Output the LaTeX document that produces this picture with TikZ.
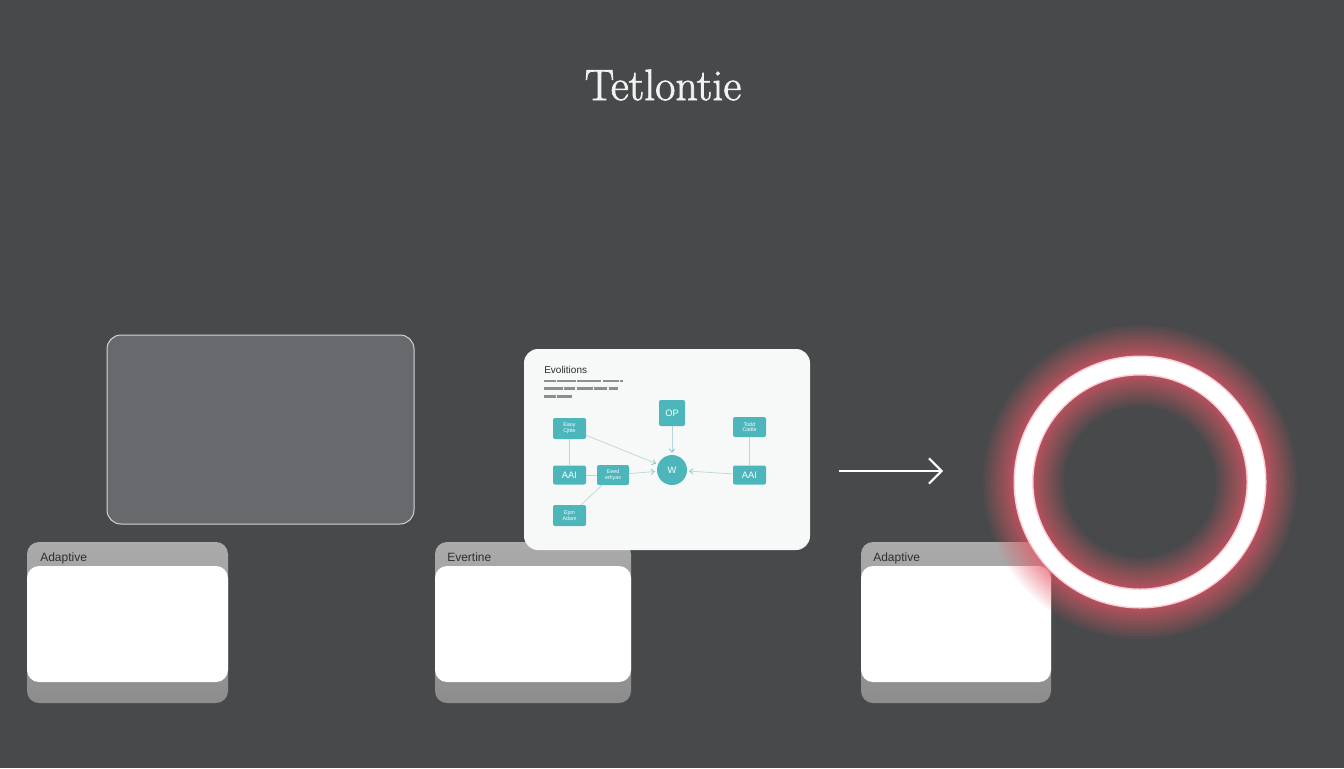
\documentclass[tikz,border=0pt]{standalone}
\usepackage{fontspec}
\newfontfamily\labelfont{Liberation Sans}
\newfontfamily\titlefont[FakeBold=1.6]{Latin Modern Roman}
\usetikzlibrary{arrows.meta}
\definecolor{bg}{HTML}{48494B}
\definecolor{titlecol}{HTML}{F2F2F2}
\definecolor{panelgray}{HTML}{67696C}
\definecolor{panelline}{HTML}{D4D5D6}
\definecolor{cardwhite}{HTML}{F7F8F8}
\definecolor{backgray}{HTML}{9C9C9C}
\definecolor{labelcol}{HTML}{2E2E2E}
\definecolor{teal}{HTML}{4DB6BB}
\definecolor{conncol}{HTML}{B7D6D8}
\definecolor{tipcol}{HTML}{6FC2C6}
\definecolor{glowred}{HTML}{EA5E6C}
\definecolor{ringpink}{HTML}{FBD0D4}
\definecolor{textline}{HTML}{8A8F92}
\tikzset{
  pxsize/.style 2 args={minimum width=#1*0.75pt, minimum height=#2*0.75pt, inner sep=0pt},
  backcard/.style={rounded corners=9pt},
  frontcard/.style={fill=white, rounded corners=9pt},
  cardlabel/.style={anchor=west, text=labelcol, font=\labelfont\fontsize{9}{10}\selectfont, inner sep=0pt},
  tealbox/.style={fill=teal, rounded corners=1.5pt, text=white, align=center, font=\labelfont\fontsize{7}{7}\selectfont},
  tinytxt/.style={font=\labelfont\fontsize{4}{4.2}\selectfont},
  conn/.style={draw=conncol, line width=0.5pt},
  connarrow/.style={conn, -{Straight Barb[length=2.5pt,width=4pt,color=tipcol]}, shorten >=1.5pt},
}
\begin{document}
\begin{tikzpicture}[x=0.75pt,y=-0.75pt]
\fill[bg] (0,0) rectangle (1344,768);
\useasboundingbox (0,0) rectangle (1344,768);

% title
\node[text=titlecol, font=\titlefont\fontsize{33}{36}\selectfont] (title) at (663,85) {Tetlontie};

% translucent gray panel
\node[pxsize={307}{189}, fill=panelgray, draw=panelline, line width=0.75pt, rounded corners=10.5pt] (panel) at (260.5,429.5) {};

% bottom card backs
\node[backcard, pxsize={201}{161}, top color=backgray!85!white, bottom color=backgray!90!black] (back1) at (127.5,622.5) {};
\node[backcard, pxsize={196}{161}, top color=backgray!85!white, bottom color=backgray!90!black] (back2) at (533,622.5) {};
\node[backcard, pxsize={190}{161}, top color=backgray!85!white, bottom color=backgray!90!black] (back3) at (956,622.5) {};
\node[frontcard, pxsize={201}{116}] (front1) at (127.5,624) {};
\node[frontcard, pxsize={196}{116}] (front2) at (533,624) {};
\node[frontcard, pxsize={190}{116}] (front3) at (956,624) {};
\node[cardlabel] (lab1) at (40,558) {Adaptive};
\node[cardlabel] (lab2) at (447,557) {Evertine};
\node[cardlabel] (lab3) at (873,558) {Adaptive};

% diagram card
\node[pxsize={286}{201}, fill=cardwhite, rounded corners=10.5pt] (card) at (667,449.5) {};
\node[anchor=west, inner sep=0pt, text=labelcol, font=\labelfont\fontsize{7.5}{8}\selectfont] (evo) at (544,370) {Evolitions};
\draw[textline, line width=2.2pt, dash pattern=on 9pt off 1pt on 14pt off 1pt on 18pt off 1pt on 12pt off 1pt] (544,381) -- (623,381);
\draw[textline, line width=2.2pt, dash pattern=on 14pt off 1pt on 8pt off 1.5pt on 12pt off 1pt on 10pt off 1pt] (544,388.5) -- (618,388.5);
\draw[textline, line width=2.2pt, dash pattern=on 9pt off 1pt on 11pt off 1pt] (544,396.5) -- (573,396.5);

% teal nodes
\node[tealbox, pxsize={33}{21}, tinytxt] (tl) at (569.5,428.5) {Eaoy\\Cjitte};
\node[tealbox, pxsize={33}{19}] (aail) at (569.5,475) {AAI};
\node[tealbox, pxsize={32}{20}, tinytxt] (mid) at (613,475) {Eeed\\erhyas};
\node[tealbox, pxsize={33}{21}, tinytxt] (adam) at (569.5,515.5) {Epm\\Adam};
\node[tealbox, pxsize={26}{26}] (op) at (672,413) {OP};
\node[tealbox, pxsize={33}{20}, tinytxt] (tr) at (749.5,427) {Todd\\Cattle};
\node[tealbox, pxsize={33}{19}] (aair) at (749.5,475) {AAI};
\node[circle, fill=teal, text=white, minimum size=22.5pt, inner sep=0pt, font=\labelfont\fontsize{7}{7}\selectfont] (w) at (672,470) {W};

% connectors
\draw[conn] (tl) -- (aail);
\draw[conn] (aail) -- (mid);
\draw[conn] (adam) -- (mid);
\draw[conn] (tr) -- (aair);
\draw[connarrow] (mid) -- (w);
\draw[connarrow] (tl) -- (w);
\draw[connarrow] (op) -- (w);
\draw[connarrow] (aair) -- (w);

% white arrow
\coordinate (arrs) at (839,471);
\coordinate (arre) at (943,471);
\draw[white, line width=1.5pt, -{Straight Barb[length=9.5pt,width=19pt]}] (arrs) -- (arre);

% glowing ring
\coordinate (ringc) at (1140,482);
\foreach \k in {1,...,22} {
  \draw[glowred, opacity=0.065, line width={(18+0.13*\k*\k)*0.75pt}] (ringc) circle[radius=116.5];
}
\draw[ringpink, line width=20*0.75pt] (ringc) circle[radius=116.5];
\draw[white, line width=17*0.75pt] (ringc) circle[radius=116.5];
\end{tikzpicture}
\end{document}
